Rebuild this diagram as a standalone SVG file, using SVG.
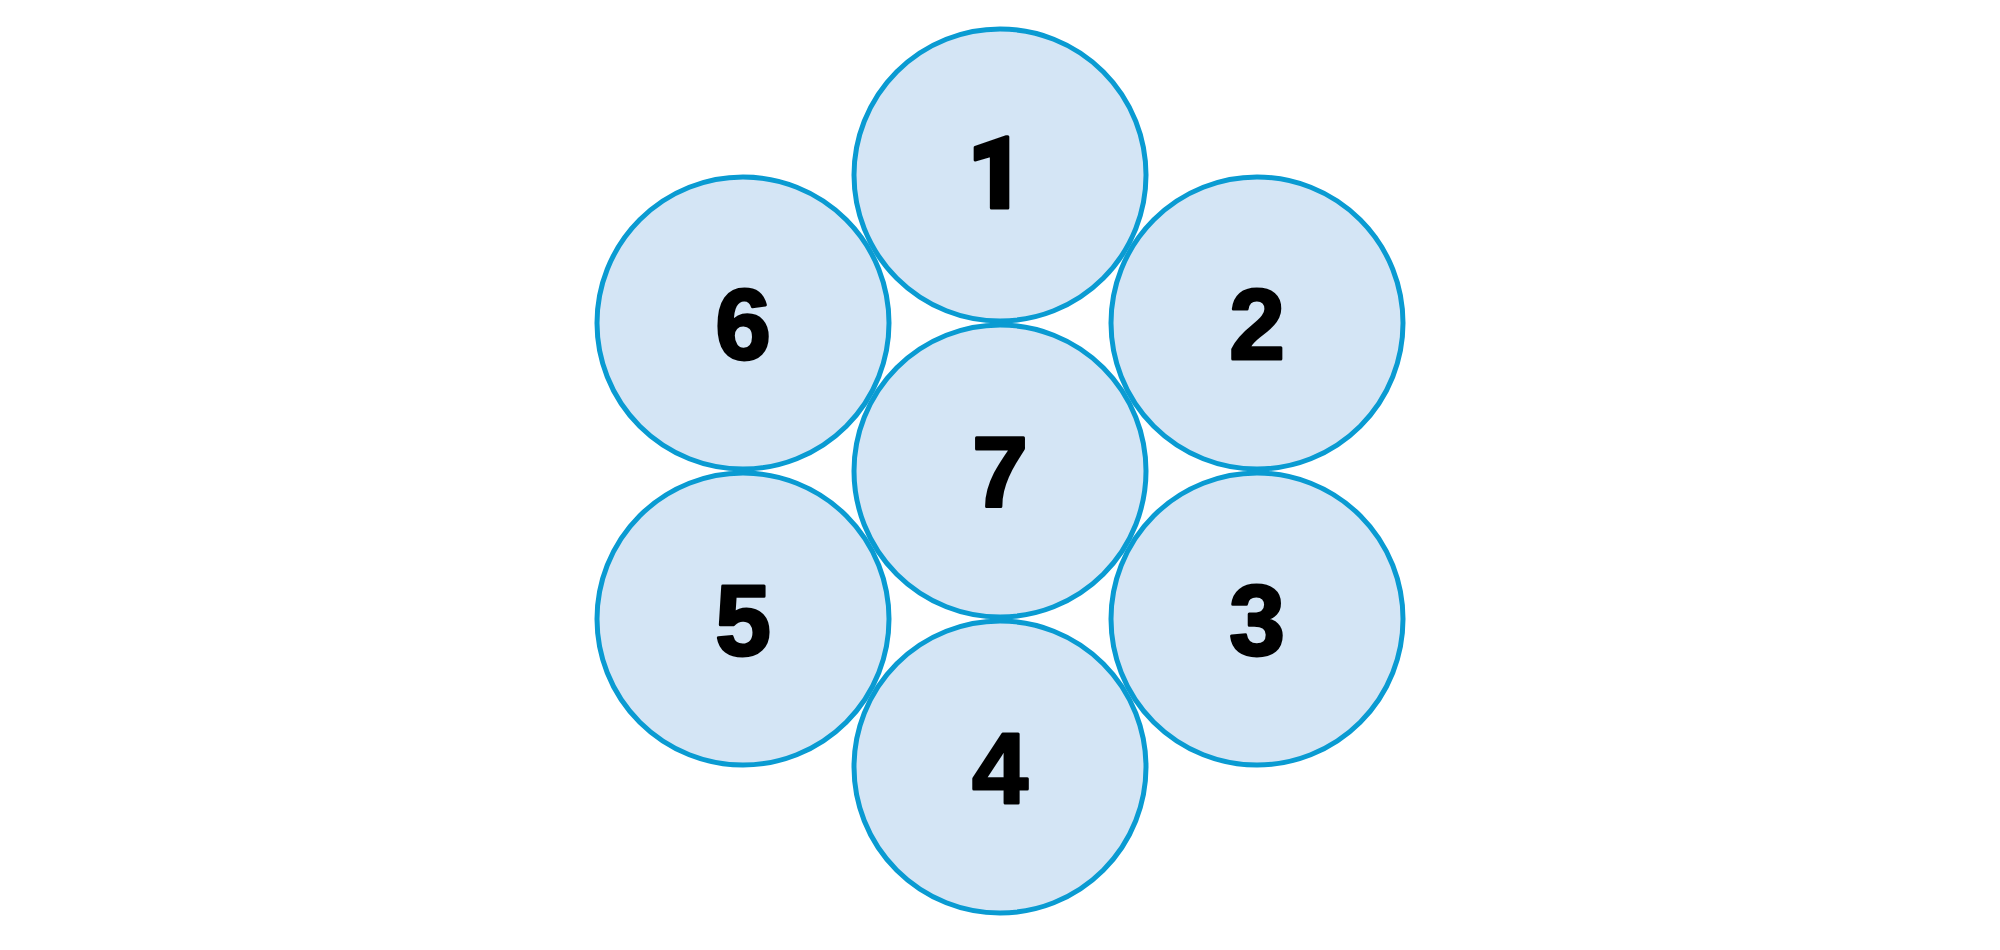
<svg xmlns="http://www.w3.org/2000/svg" width="2000" height="950" viewBox="0 0 2000 950">
<style>
.n circle{fill:#d4e5f5;stroke:#0a9bd2;stroke-width:5}
.n text{font-family:"Liberation Sans",Arial,sans-serif;font-weight:bold;font-size:100px;fill:#000;stroke:#000;stroke-width:3;stroke-linejoin:round;text-anchor:middle}
.n text.one{font-family:Roboto,"Liberation Sans",sans-serif;font-weight:900}
</style>
<rect width="2000" height="950" fill="#fff"/>
<g id="connectors"/>
<g id="node1" class="n"><circle cx="1000" cy="175" r="146"/><text class="one" x="996" y="208">1</text></g>
<g id="node2" class="n"><circle cx="1257" cy="323" r="146"/><text x="1257" y="359">2</text></g>
<g id="node3" class="n"><circle cx="1257" cy="619" r="146"/><text x="1257" y="655">3</text></g>
<g id="node4" class="n"><circle cx="1000" cy="767" r="146"/><text x="1000" y="803">4</text></g>
<g id="node5" class="n"><circle cx="743" cy="619" r="146"/><text x="743" y="655">5</text></g>
<g id="node6" class="n"><circle cx="743" cy="323" r="146"/><text x="743" y="359">6</text></g>
<g id="node7" class="n"><circle cx="1000" cy="471" r="146"/><text x="1000" y="507">7</text></g>
</svg>
